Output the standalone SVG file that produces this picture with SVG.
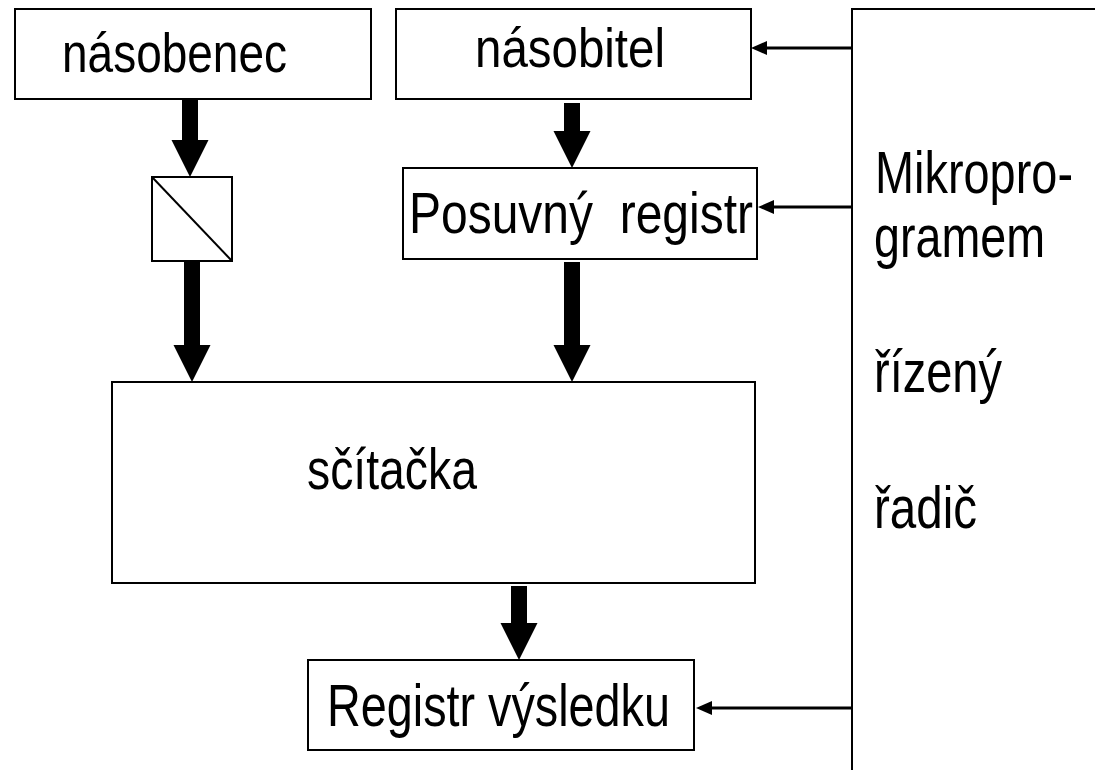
<svg xmlns="http://www.w3.org/2000/svg" width="1095" height="770" viewBox="0 0 1095 770">
<style>
.box{fill:#fff;stroke:#000;stroke-width:2}
.lbl{font-family:"Liberation Sans Narrow","Liberation Sans","Arial Narrow",Arial,sans-serif;fill:#000}
.thick{stroke:#000;stroke-width:16;fill:none}
.thin{stroke:#000;stroke-width:3;fill:none}
</style>
<defs>
<marker id="bigHead" markerUnits="userSpaceOnUse" markerWidth="38" markerHeight="38" refX="0" refY="18.5" orient="auto" overflow="visible">
<path d="M0,0 L37,18.5 L0,37 z" fill="#000"/>
</marker>
<marker id="smallHead" markerUnits="userSpaceOnUse" markerWidth="17" markerHeight="15" refX="0" refY="7" orient="auto" overflow="visible">
<path d="M0,0 L16,7 L0,14 z" fill="#000"/>
</marker>
</defs>
<rect width="1095" height="770" fill="#fff"/>

<g id="nasobenec">
<rect class="box" x="15" y="9" width="356" height="90"/>
<text class="lbl" x="62" y="72" font-size="55" textLength="225" lengthAdjust="spacingAndGlyphs">násobenec</text>
</g>
<g id="nasobitel">
<rect class="box" x="396" y="9" width="355" height="90"/>
<text class="lbl" x="475" y="67" font-size="55" textLength="190" lengthAdjust="spacingAndGlyphs">násobitel</text>
</g>
<g id="prevodnik">
<rect class="box" x="152" y="177" width="80" height="84"/>
<line x1="152" y1="177" x2="232" y2="261" stroke="#000" stroke-width="2"/>
</g>
<g id="posuvny-registr">
<rect class="box" x="403" y="168" width="354" height="91"/>
<text class="lbl" x="409" y="233" font-size="57" textLength="344" lengthAdjust="spacingAndGlyphs" xml:space="preserve">Posuvný  registr</text>
</g>
<g id="scitacka">
<rect class="box" x="112" y="382" width="643" height="201"/>
<text class="lbl" x="307" y="489" font-size="58" textLength="170" lengthAdjust="spacingAndGlyphs">sčítačka</text>
</g>
<g id="registr-vysledku">
<rect class="box" x="308" y="660" width="386" height="90"/>
<text class="lbl" x="327" y="726" font-size="60" textLength="343" lengthAdjust="spacingAndGlyphs">Registr výsledku</text>
</g>
<g id="radic">
<polyline points="1095,9 852,9 852,770" fill="none" stroke="#000" stroke-width="2"/>
<text class="lbl" x="875" y="193" font-size="60" textLength="198" lengthAdjust="spacingAndGlyphs">Mikropro-</text>
<text class="lbl" x="874" y="257" font-size="60" textLength="171" lengthAdjust="spacingAndGlyphs">gramem</text>
<text class="lbl" x="874" y="392" font-size="60" textLength="128" lengthAdjust="spacingAndGlyphs">řízený</text>
<text class="lbl" x="874" y="528" font-size="60" textLength="103" lengthAdjust="spacingAndGlyphs">řadič</text>
</g>

<g id="connectors">
<line class="thick" x1="190" y1="99" x2="190" y2="140" marker-end="url(#bigHead)"/>
<line class="thick" x1="192" y1="262" x2="192" y2="345" marker-end="url(#bigHead)"/>
<line class="thick" x1="572" y1="103" x2="572" y2="131" marker-end="url(#bigHead)"/>
<line class="thick" x1="572" y1="262" x2="572" y2="345" marker-end="url(#bigHead)"/>
<line class="thick" x1="519" y1="586" x2="519" y2="623" marker-end="url(#bigHead)"/>
<line class="thin" x1="852" y1="48" x2="767" y2="48" marker-end="url(#smallHead)"/>
<line class="thin" x1="852" y1="207" x2="774" y2="207" marker-end="url(#smallHead)"/>
<line class="thin" x1="852" y1="708" x2="712" y2="708" marker-end="url(#smallHead)"/>
</g>
</svg>
